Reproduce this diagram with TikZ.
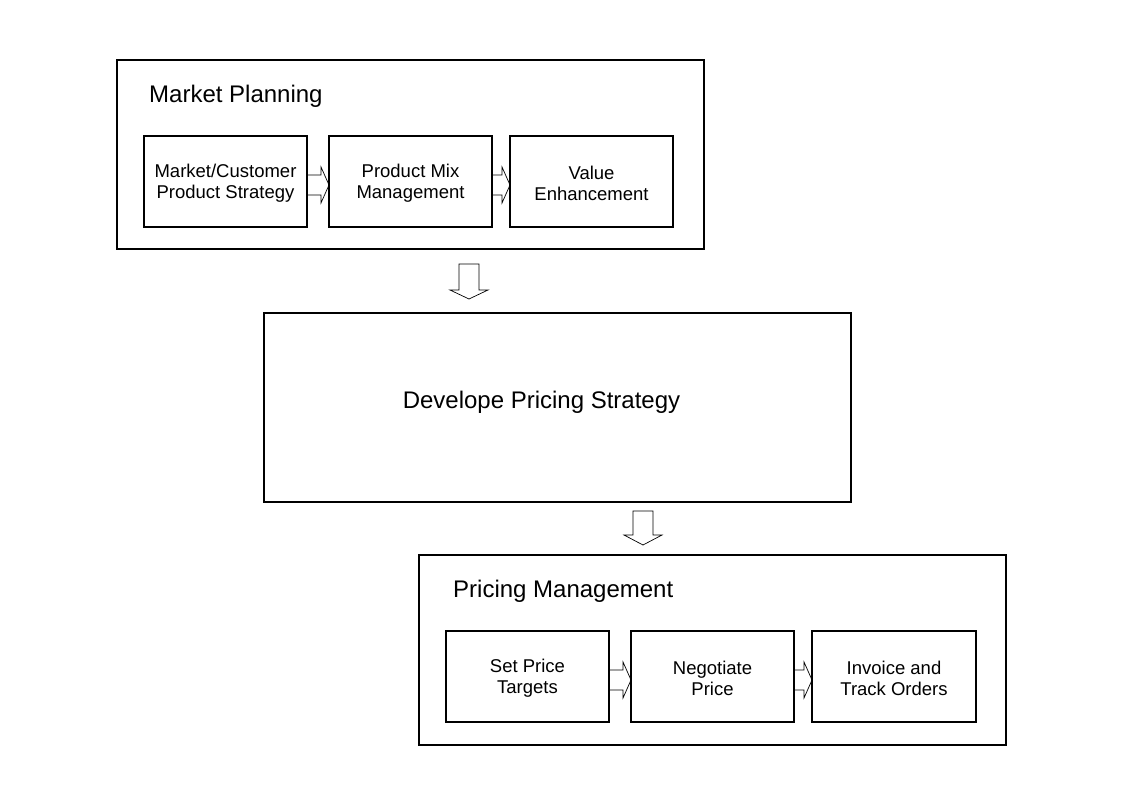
\documentclass[tikz,border=0pt]{standalone}
\usepackage{fontspec}
\setmainfont{Liberation Sans}
\pgfdeclarelayer{background}
\pgfsetlayers{background,main}
\begin{document}
\begin{tikzpicture}[x=1pt,y=-1pt,
  outerbox/.style={draw=black, line width=2.5pt},
  innerbox/.style={draw=black, line width=1.4pt, minimum width=163pt, minimum height=91pt, inner sep=0pt},
  innertext/.style={inner sep=0pt, align=center, font=\fontsize{18.5}{21}\selectfont},
  titletext/.style={anchor=west, inner sep=0pt, font=\fontsize{24}{28}\selectfont},
  blockarrow/.style={draw=black, line width=0.7pt, fill=white}
]
\useasboundingbox (0,0) rectangle (1123,794);
% Market planning
\draw[outerbox] (117,60) rectangle (704,249);
\node[titletext] (mptitle) at (149,96) {Market Planning};
\node[innerbox] (mc) at (225.5,181.5) {};
\node[innerbox] (pm) at (410.5,181.5) {};
\node[innerbox] (ve) at (591.5,181.5) {};
\node[innertext] (mct) at (225.5,183) {Market/Customer\\Product Strategy};
\node[innertext] (pmt) at (410.5,183) {Product Mix\\Management};
\node[innertext] (vet) at (591.5,183) {Value\\Enhancement};
% Develope
\draw[outerbox] (264,313) rectangle (851,502);
\node[inner sep=0pt, font=\fontsize{24}{28}\selectfont] (dps) at (541.5,402) {Develope Pricing Strategy};
% Pricing management
\draw[outerbox] (419,555) rectangle (1006,745);
\node[titletext] (pmtitle) at (453,591) {Pricing Management};
\node[innerbox] (sp) at (527.5,676.5) {};
\node[innerbox] (np) at (712.5,676.5) {};
\node[innerbox, minimum width=164pt] (it) at (894,676.5) {};
\node[innertext] (spt) at (527.5,678) {Set Price\\Targets};
\node[innertext] (npt) at (712.5,678) {Negotiate\\Price};
\node[innertext] (itt) at (894,678) {Invoice and\\Track Orders};
% right block arrows
\newcommand{\rarrow}[3]{%
  \draw[blockarrow] (#1,#3-10) -- (#2-8,#3-10) -- (#2-8,#3-18) -- (#2,#3) -- (#2-8,#3+18) -- (#2-8,#3+10) -- (#1,#3+10);}
% down block arrows
\newcommand{\darrow}[4]{%
  \draw[blockarrow] (#1-10,#2) -- (#1+10,#2) -- (#1+10,#3) -- (#1+19,#3) -- (#1,#4) -- (#1-19,#3) -- (#1-10,#3) -- cycle;}
\begin{pgfonlayer}{background}
\rarrow{307}{329}{185}
\rarrow{492}{510}{185}
\rarrow{609}{631}{680}
\rarrow{794}{812}{680}
\darrow{469}{264}{290}{299}
\darrow{643}{511}{535}{545}
\end{pgfonlayer}
\end{tikzpicture}
\end{document}
